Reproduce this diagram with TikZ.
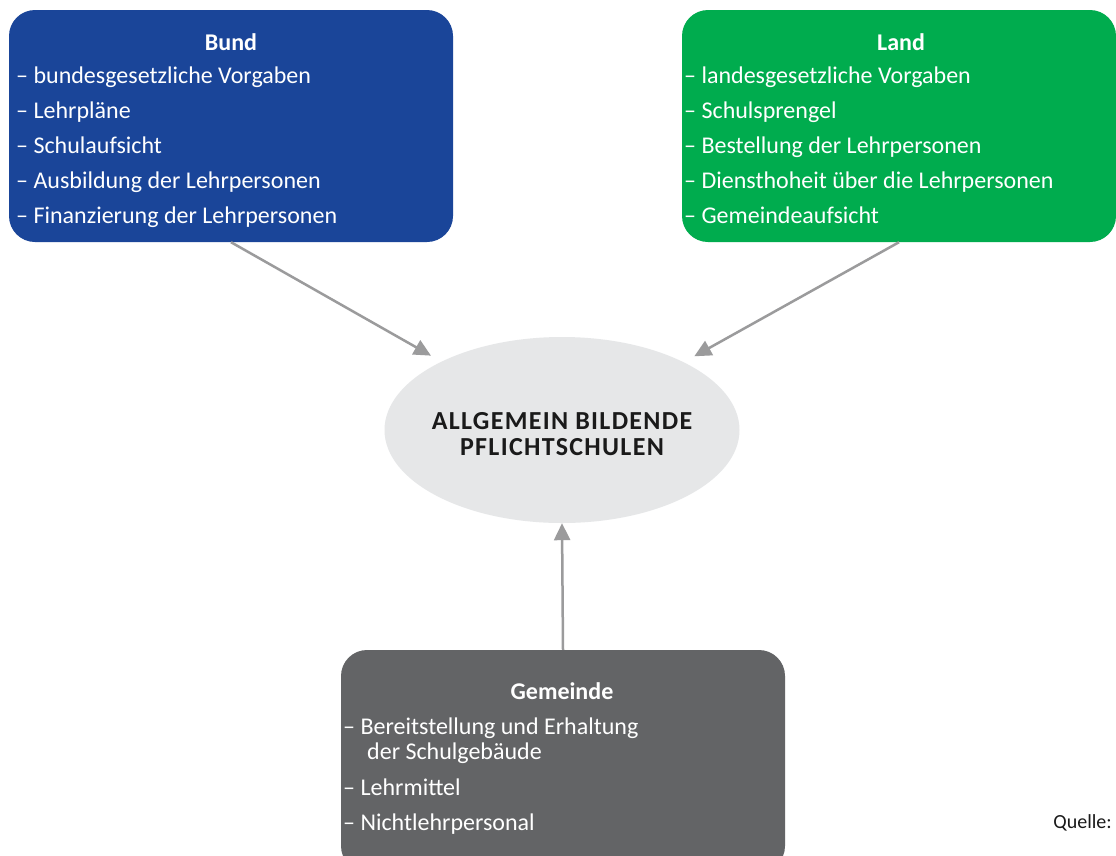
\documentclass[tikz,border=0pt]{standalone}
\usepackage{fontspec}
\setmainfont{Carlito}
\newfontfamily\titelfont[LetterSpace=5]{Carlito}
\usetikzlibrary{shapes.geometric,arrows.meta}
\definecolor{bundblau}{HTML}{1A4599}
\definecolor{landgruen}{HTML}{00AC4E}
\definecolor{gemeindegrau}{HTML}{636466}
\definecolor{kreisgrau}{HTML}{E6E7E8}
\definecolor{pfeilgrau}{HTML}{9B9B9C}
\definecolor{textschwarz}{HTML}{1A1A1A}

\tikzset{
  box/.style={rectangle, rounded corners=26pt, draw=none, inner sep=0pt, minimum height=232pt},
  kopf/.style={white, anchor=base, inner sep=0pt, font=\fontsize{24}{26}\selectfont\bfseries},
  punkt/.style={white, anchor=base west, inner sep=0pt, font=\fontsize{24}{26}\selectfont},
  pfeil/.style={draw=pfeilgrau, line width=2.5pt, -{Triangle[length=17pt,width=16pt]}}
}

\begin{document}
\begin{tikzpicture}[x=1pt,y=-1pt]
\clip (0,0) rectangle (1116,855);
\fill[white] (0,0) rectangle (1116,855);
% Bund
\node[box, fill=bundblau, minimum width=444pt] (bund) at (231,126) {};
\node[kopf] (bundkopf) at (231,50) {Bund};
\node[punkt] (bund1) at (16,83) {– bundesgesetzliche Vorgaben};
\node[punkt] (bund2) at (16,118) {– Lehrpläne};
\node[punkt] (bund3) at (16,153) {– Schulaufsicht};
\node[punkt] (bund4) at (16,188) {– Ausbildung der Lehrpersonen};
\node[punkt] (bund5) at (16,223) {– Finanzierung der Lehrpersonen};
% Land
\node[box, fill=landgruen, minimum width=434pt] (land) at (899,126) {};
\node[kopf] (landkopf) at (901,50) {Land};
\node[punkt] (land1) at (684,83) {– landesgesetzliche Vorgaben};
\node[punkt] (land2) at (684,118) {– Schulsprengel};
\node[punkt] (land3) at (684,153) {– Bestellung der Lehrpersonen};
\node[punkt] (land4) at (684,188) {– Diensthoheit über die Lehrpersonen};
\node[punkt] (land5) at (684,223) {– Gemeindeaufsicht};
% Schule
\node[ellipse, fill=kreisgrau, inner sep=0pt, minimum width=355pt, minimum height=186pt] (schule) at (562,430) {};
\node[align=center, inner sep=0pt, text=textschwarz, font=\fontsize{26}{26}\titelfont\bfseries] (schultitel) at (562,434)
  {ALLGEMEIN BILDENDE\\PFLICHTSCHULEN};
% Gemeinde
\node[box, fill=gemeindegrau, minimum width=444pt, minimum height=222pt] (gemeinde) at (563,761) {};
\node[kopf] (gemeindekopf) at (562,699) {Gemeinde};
\node[punkt] (gemeinde1) at (343,734) {– Bereitstellung und Erhaltung};
\node[punkt] (gemeinde1b) at (367,759) {der Schulgebäude};
\node[punkt] (gemeinde2) at (343,795) {– Lehrmittel};
\node[punkt] (gemeinde3) at (343,830) {– Nichtlehrpersonal};
% Quelle
\node[anchor=base east, inner sep=0pt, text=textschwarz, font=\fontsize{20}{22}\selectfont] (quelle) at (1112,828) {Quelle:};
% Pfeile
\draw[pfeil, shorten >=12pt] (bund.south) -- (schule);
\draw[pfeil, shorten >=12pt] (land.south) -- (schule);
\draw[pfeil] (gemeinde.north) -- (schule.south);
\end{tikzpicture}
\end{document}
